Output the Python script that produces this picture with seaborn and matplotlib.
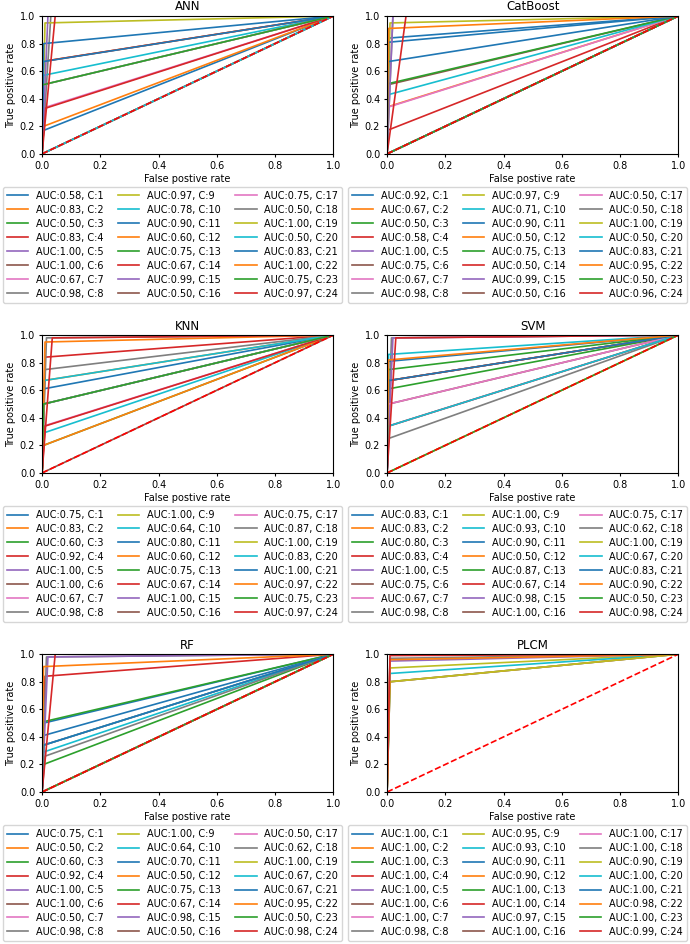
import matplotlib
matplotlib.use("Agg")
import matplotlib.pyplot as plt
import seaborn as sns
import pandas as pd

models = ["ANN", "CatBoost", "KNN", "SVM", "RF", "PLCM"]
classes = list(range(1, 25))

# AUC per class, read from the legends
auc_ann = [0.58, 0.83, 0.50, 0.83, 1.00, 1.00, 0.67, 0.98, 0.97, 0.78, 0.90, 0.60,
           0.75, 0.67, 0.99, 0.50, 0.75, 0.50, 1.00, 0.50, 0.83, 1.00, 0.75, 0.97]
auc_cat = [0.92, 0.67, 0.50, 0.58, 1.00, 0.75, 0.67, 0.98, 0.97, 0.71, 0.90, 0.50,
           0.75, 0.50, 0.99, 0.50, 0.50, 0.50, 1.00, 0.50, 0.83, 0.95, 0.50, 0.96]
auc_knn = [0.75, 0.83, 0.60, 0.92, 1.00, 1.00, 0.67, 0.98, 1.00, 0.64, 0.80, 0.60,
           0.75, 0.67, 1.00, 0.50, 0.75, 0.87, 1.00, 0.83, 1.00, 0.97, 0.75, 0.97]
auc_svm = [0.83, 0.83, 0.80, 0.83, 1.00, 0.75, 0.67, 0.98, 1.00, 0.93, 0.90, 0.50,
           0.87, 0.67, 0.98, 1.00, 0.75, 0.62, 1.00, 0.67, 0.83, 0.90, 0.50, 0.98]
auc_rf = [0.75, 0.50, 0.60, 0.92, 1.00, 1.00, 0.50, 0.98, 1.00, 0.64, 0.70, 0.50,
          0.75, 0.67, 0.98, 0.50, 0.50, 0.62, 1.00, 0.67, 0.67, 0.95, 0.50, 0.98]
auc_plcm = [1.00, 1.00, 1.00, 1.00, 1.00, 1.00, 1.00, 0.98, 0.95, 0.93, 0.90, 0.90,
            1.00, 1.00, 0.97, 1.00, 1.00, 1.00, 0.90, 1.00, 1.00, 0.98, 1.00, 0.99]

# operating point (fpr, tpr) of each class
fpr_ann = [0.005, 0.0, 0.0, 0.0, 0.0, 0.0, 0.0, 0.03, 0.01, 0.005, 0.005, 0.005,
           0.0, 0.01, 0.02, 0.0, 0.0, 0.0, 0.0, 0.0, 0.005, 0.0, 0.0, 0.045]
tpr_ann = [0.17, 0.67, 0.0, 0.67, 1.0, 1.0, 0.33, 1.0, 0.95, 0.57, 0.80, 0.20,
           0.50, 0.33, 1.0, 0.0, 0.50, 0.0, 1.0, 0.0, 0.67, 1.0, 0.50, 1.0]
fpr_cat = [0.005, 0.0, 0.0, 0.0, 0.0, 0.0, 0.005, 0.02, 0.01, 0.005, 0.005, 0.0,
           0.005, 0.0, 0.02, 0.0, 0.0, 0.0, 0.0, 0.0, 0.005, 0.005, 0.0, 0.065]
tpr_cat = [0.84, 0.34, 0.0, 0.17, 1.0, 0.50, 0.34, 1.0, 0.95, 0.43, 0.81, 0.0,
           0.51, 0.0, 1.0, 0.0, 0.0, 0.0, 1.0, 0.0, 0.67, 0.91, 0.0, 1.0]
fpr_knn = [0.005, 0.005, 0.005, 0.01, 0.0, 0.0, 0.005, 0.015, 0.0, 0.005, 0.005, 0.005,
           0.005, 0.01, 0.0, 0.0, 0.005, 0.01, 0.0, 0.005, 0.0, 0.01, 0.005, 0.035]
tpr_knn = [0.50, 0.67, 0.20, 0.84, 1.0, 1.0, 0.34, 0.98, 1.0, 0.29, 0.61, 0.20,
           0.50, 0.34, 1.0, 0.0, 0.50, 0.75, 1.0, 0.67, 1.0, 0.95, 0.50, 0.98]
fpr_svm = [0.005, 0.005, 0.005, 0.005, 0.0, 0.005, 0.005, 0.015, 0.0, 0.005, 0.005, 0.0,
           0.005, 0.005, 0.02, 0.0, 0.005, 0.005, 0.0, 0.005, 0.005, 0.005, 0.0, 0.03]
tpr_svm = [0.67, 0.67, 0.61, 0.67, 1.0, 0.50, 0.34, 0.98, 1.0, 0.86, 0.81, 0.0,
           0.75, 0.34, 0.98, 1.0, 0.50, 0.25, 1.0, 0.34, 0.67, 0.82, 0.0, 0.98]
fpr_rf = [0.005, 0.0, 0.005, 0.01, 0.0, 0.0, 0.0, 0.015, 0.0, 0.005, 0.005, 0.0,
          0.005, 0.005, 0.02, 0.0, 0.0, 0.01, 0.0, 0.005, 0.005, 0.005, 0.0, 0.045]
tpr_rf = [0.50, 0.0, 0.20, 0.84, 1.0, 1.0, 0.0, 0.98, 1.0, 0.29, 0.41, 0.0,
          0.51, 0.34, 0.98, 0.0, 0.0, 0.26, 1.0, 0.34, 0.34, 0.91, 0.0, 1.0]
fpr_plcm = [0.0, 0.0, 0.0, 0.0, 0.0, 0.0, 0.0, 0.01, 0.01, 0.01, 0.01, 0.01,
            0.0, 0.0, 0.01, 0.0, 0.0, 0.0, 0.01, 0.0, 0.0, 0.01, 0.0, 0.01]
tpr_plcm = [1.0, 1.0, 1.0, 1.0, 1.0, 1.0, 1.0, 0.97, 0.90, 0.86, 0.80, 0.80,
            1.0, 1.0, 0.95, 1.0, 1.0, 1.0, 0.80, 1.0, 1.0, 0.96, 1.0, 0.99]

aucs = [auc_ann, auc_cat, auc_knn, auc_svm, auc_rf, auc_plcm]
fprs = [fpr_ann, fpr_cat, fpr_knn, fpr_svm, fpr_rf, fpr_plcm]
tprs = [tpr_ann, tpr_cat, tpr_knn, tpr_svm, tpr_rf, tpr_plcm]

rows = []
for m, auc, fp, tp in zip(models, aucs, fprs, tprs):
    for c, a, f, t in zip(classes, auc, fp, tp):
        lab = f"AUC:{a:.2f}, C:{c}"
        for step, (x, y) in enumerate([(0.0, 0.0), (f, t), (1.0, 1.0)]):
            rows.append({"model": m, "label": lab, "step": step, "fpr": x, "tpr": y})
df = pd.DataFrame(rows)

plt.rcParams.update({
    "font.size": 7,
    "xtick.major.size": 2.5,
    "ytick.major.size": 2.5,
    "xtick.major.pad": 2.5,
    "ytick.major.pad": 2.5,
    "axes.labelpad": 2.5,
    "axes.linewidth": 0.8,
})
palette = sns.color_palette("tab10", 10)
colors = [palette[i % 10] for i in range(24)]

fig = plt.figure(figsize=(6.9, 9.44), dpi=100)
lefts = [0.061, 0.561]
bottoms = [0.837, 0.499, 0.161]
W, H = 0.422, 0.146

for i, m in enumerate(models):
    ax = fig.add_axes([lefts[i % 2], bottoms[i // 2], W, H])
    sub = df[df["model"] == m]
    sns.lineplot(data=sub, x="fpr", y="tpr", hue="label", palette=colors,
                 estimator=None, sort=False, units="label", linewidth=1.2, ax=ax)
    ax.plot([0, 1], [0, 1], "r--", linewidth=1.2)
    ax.set_xlim(0, 1)
    ax.set_ylim(0, 1)
    ax.set_title(m, fontsize=8.5, pad=4)
    ax.set_xlabel("False postive rate")
    ax.set_ylabel("True positive rate")
    handles, labels = ax.get_legend_handles_labels()
    ax.legend(handles[:24], labels[:24], ncol=3, loc="upper left",
              bbox_to_anchor=(-0.134, -0.24), fontsize=7, columnspacing=1.45,
              labelspacing=0.41, handlelength=2.2, borderaxespad=0)

fig.savefig("out.png", dpi=100)
